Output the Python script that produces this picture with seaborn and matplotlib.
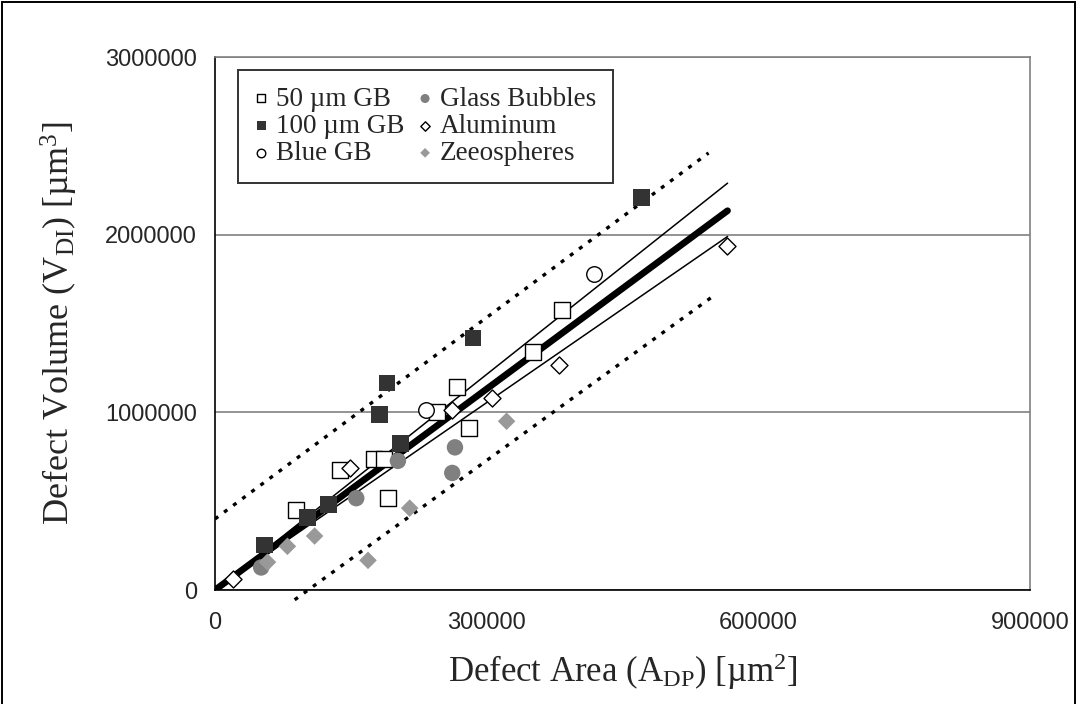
import numpy as np
import pandas as pd
import matplotlib
matplotlib.use("Agg")
import matplotlib.pyplot as plt
import seaborn as sns
from matplotlib.patches import Rectangle

# data (area um^2, volume um^3)
gb50_x = [90000, 138000, 176000, 187000, 191000, 245000, 267000, 280000, 351000, 383000]
gb50_y = [448000, 676000, 740000, 740000, 517000, 1000000, 1140000, 910000, 1340000, 1576000]

gb100_x = [55000, 102000, 125000, 182000, 190000, 205000, 285000, 471000]
gb100_y = [253000, 410000, 481000, 988000, 1165000, 823000, 1419000, 2209000]

blue_x = [233000, 419000]
blue_y = [1013000, 1779000]

glass_x = [51000, 156000, 202000, 262000, 265000]
glass_y = [127000, 517000, 727000, 659000, 803000]

alu_x = [20000, 149000, 262000, 306000, 380000, 565000]
alu_y = [61000, 689000, 1011000, 1079000, 1264000, 1936000]

zeeo_x = [58000, 80000, 110000, 169000, 215000, 322000]
zeeo_y = [157000, 246000, 304000, 167000, 461000, 950000]

# fit line and bands (end points)
fit_x = [0, 566000]
fit_y = [0, 2135000]
ci_hi_y = [0, 2290000]
ci_lo_y = [0, 1990000]
pi_hi_x = [0, 545000]
pi_hi_y = [400000, 2460000]
pi_lo_x = [88000, 553000]
pi_lo_y = [-55000, 1665000]

sns.set_style("white")
plt.rcParams["font.family"] = ["Liberation Sans", "DejaVu Sans"]
plt.rcParams["mathtext.fontset"] = "custom"
plt.rcParams["mathtext.rm"] = "Liberation Serif"
plt.rcParams["mathtext.it"] = "Liberation Serif:italic"

fig = plt.figure(figsize=(10.77, 7.04), dpi=100)
ax = fig.add_axes([0.1996, 0.1619, 0.7568, 0.7571])

# lines first, markers on top
sns.lineplot(x=fit_x, y=fit_y, ax=ax, color="black", linewidth=4.8, solid_capstyle="round", zorder=2)
sns.lineplot(x=fit_x, y=ci_hi_y, ax=ax, color="black", linewidth=1.1, zorder=2)
sns.lineplot(x=fit_x, y=ci_lo_y, ax=ax, color="black", linewidth=1.1, zorder=2)
sns.lineplot(x=pi_hi_x, y=pi_hi_y, ax=ax, color="black", linewidth=2.4, linestyle=(0, (1.2, 2.2)), zorder=2)
sns.lineplot(x=pi_lo_x, y=pi_lo_y, ax=ax, color="black", linewidth=2.4, linestyle=(0, (1.2, 2.2)), zorder=2)
ax.lines[-1].set_clip_on(False)

series = [
    ("50 µm GB", gb50_x, gb50_y, "s", "white", "black", 120),
    ("100 µm GB", gb100_x, gb100_y, "s", "#333333", "none", 145),
    ("Blue GB", blue_x, blue_y, "o", "white", "black", 125),
    ("Glass Bubbles", glass_x, glass_y, "o", "#808080", "none", 140),
    ("Aluminum", alu_x, alu_y, "D", "white", "black", 75),
    ("Zeeospheres", zeeo_x, zeeo_y, "D", "#999999", "none", 80),
]
for name, xs, ys, mk, fc, ec, sz in series:
    sns.scatterplot(x=xs, y=ys, ax=ax, marker=mk, color=fc, edgecolor=ec,
                    linewidth=1.0, s=sz, label=name, zorder=3)

ax.set_xlim(0, 900000)
ax.set_ylim(0, 3000000)
ax.set_xticks([0, 300000, 600000, 900000])
ax.set_yticks([0, 1000000, 2000000, 3000000])
ax.set_xticklabels(["0", "300000", "600000", "900000"])
ax.set_yticklabels(["0", "1000000", "2000000", "3000000"])
ax.tick_params(axis="both", labelsize=17, length=4, width=1.2, direction="out", color="black")
ax.tick_params(axis="x", pad=12)
ax.tick_params(axis="y", pad=9)
ax.yaxis.grid(True, color="#808080", linewidth=1.2)
ax.xaxis.grid(False)
for side in ["top", "right"]:
    ax.spines[side].set_color("#808080")
    ax.spines[side].set_linewidth(1.2)
for side in ["left", "bottom"]:
    ax.spines[side].set_color("black")
    ax.spines[side].set_linewidth(1.2)

ax.set_xlabel(r"Defect Area (A$_{\mathrm{DP}}$) [µm$^{2}$]", family="Liberation Serif", fontsize=25, labelpad=12)
ax.set_ylabel(r"Defect Volume (V$_{\mathrm{DI}}$) [µm$^{3}$]", family="Liberation Serif", fontsize=26, labelpad=18)

leg = ax.legend(ncol=2, loc="upper left", bbox_to_anchor=(0.028, 0.976), borderaxespad=0,
                prop={"family": "Liberation Serif", "size": 19.5}, markerscale=0.55,
                frameon=True, fancybox=False, edgecolor="black", handlelength=0.5,
                handletextpad=0.3, columnspacing=0.5, labelspacing=0.08, borderpad=0.62)
leg.get_frame().set_linewidth(1.4)

fig.patches.append(Rectangle((0.002, -0.01), 0.996, 1.007, transform=fig.transFigure,
                             fill=False, edgecolor="black", linewidth=1.4))

fig.savefig("out.png", dpi=100)
